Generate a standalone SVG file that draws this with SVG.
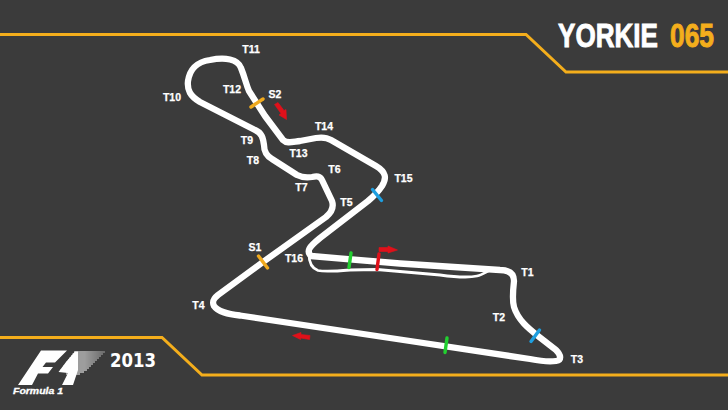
<svg xmlns="http://www.w3.org/2000/svg" width="728" height="410" viewBox="0 0 728 410">
<style>
.gold{fill:none;stroke:#f4ae1c;stroke-width:3;stroke-linejoin:miter}
.track{fill:none;stroke:#fff;stroke-linejoin:round;stroke-linecap:round}
.lbl{font:bold 10.500px "Liberation Sans",Arial,sans-serif;fill:#fff;stroke:#fff;stroke-width:.25;text-anchor:middle}
.mark{fill:none;stroke-width:3.400;stroke-linecap:round}
.arrow{fill:#e0101a;stroke:#e0101a;stroke-width:.6;stroke-linejoin:round}
.st{stroke:url(#fade);stroke-width:1.200;fill:none}
.title{font-family:"Liberation Sans",Arial,sans-serif;font-weight:bold;font-size:33px;stroke-width:.9}
</style>
<defs>
<linearGradient id="fade" gradientUnits="userSpaceOnUse" x1="70" y1="0" x2="106" y2="0"><stop offset="0.4" stop-color="#fff"/><stop offset="1" stop-color="#fff" stop-opacity="0.45"/></linearGradient>
</defs>
<rect width="728" height="410" fill="#3b3b3b"/>
<g id="frame">
<path class="gold" d="M0 34.500H526L566 72H728"/>
<path class="gold" d="M0 337.500H162L202 375H728"/>
</g>
<g id="track">
<path class="track" stroke-width="2.800" d="M309 254C309 262 311 268 318 270.500C325 272 338 271 350 270L377 269.500L440 275C455 277 468 278 477 276C482 275 486 272 490 270"/>
<path class="track" stroke-width="6.300" d="M311 256L400 263.500L500 270C510 270 514 274 514 281C513 290 512 300 514 307C518 320 528 328 538 336L556 350C561 355 562 360 556 361C550 362 540 361 530 359L400 339.500L240 315.500C228 314 218 312 214 306C212 302 213 299 218 295L263 262L326 217C332 212 334 207 332 201L322 180C320 176 317 176 312 177C306 178 301 177 297 175L272 159C265 155 264 150 264 145C263 138 262 133 255 130L200 102C190 96 187 90 188 81C190 68 197 62 210 60C225 57 238 59 241 68C245 78 246 84 249 91L265 116L283 140C287 144 292 142 300 141L316 138C322 137 326 137 331 140L376 166C386 172 387 178 382 186C378 192 374 196 368 201L320 238C309 247 306 251 311 256Z"/>
</g>
<g id="sectors">
<path class="mark" stroke="#f0aa1e" d="M251 107L263 99"/>
<path class="mark" stroke="#f0aa1e" d="M258.500 256L267.500 268"/>
<path class="mark" stroke="#1e9fe0" d="M372.500 189.500L381.500 200.500"/>
<path class="mark" stroke="#1e9fe0" d="M531 341.500L539.500 330"/>
<path class="mark" stroke="#22d030" d="M445 352.500L447 338"/>
<path class="mark" stroke="#22d030" d="M349 267.500L351 253"/>
<path class="mark" stroke="#e0101a" d="M377 269.500L379 254"/>
</g>
<g id="arrows">
<path class="arrow" d="M274.500 104.500L278 102.500L284 110.500L286 109.500L286.500 119.500L279 115L281 113.500Z"/>
<path class="arrow" d="M379 247.500L388 247.500L388 246L397.500 250L388 253L388 251.500L379 251.500Z"/>
<path class="arrow" d="M310 335.500L301 334.500L301 332.500L292.500 335.500L300.500 339.500L300.500 338L309.500 339.500Z"/>
</g>
<g id="labels">
<text class="lbl" x="251" y="53">T11</text>
<text class="lbl" x="232" y="92.500">T12</text>
<text class="lbl" x="275" y="97.500">S2</text>
<text class="lbl" x="172" y="100.500">T10</text>
<text class="lbl" x="324" y="130">T14</text>
<text class="lbl" x="247" y="144">T9</text>
<text class="lbl" x="298.500" y="156.500">T13</text>
<text class="lbl" x="253" y="164">T8</text>
<text class="lbl" x="334.500" y="173">T6</text>
<text class="lbl" x="301.500" y="191">T7</text>
<text class="lbl" x="403.500" y="182">T15</text>
<text class="lbl" x="346.500" y="205.500">T5</text>
<text class="lbl" x="255" y="250.500">S1</text>
<text class="lbl" x="294" y="262">T16</text>
<text class="lbl" x="198.500" y="309">T4</text>
<text class="lbl" x="527.500" y="275.500">T1</text>
<text class="lbl" x="499" y="320.500">T2</text>
<text class="lbl" x="577" y="362.500">T3</text>
</g>
<g id="title">
<text class="title" transform="translate(558 47) scale(.79 1)" fill="#fff" stroke="#fff">YORKIE</text>
<text class="title" transform="translate(670 47) scale(.8 1)" fill="#f4ae1c" stroke="#f4ae1c">065</text>
</g>
<g id="logo">
<path fill="#fff" d="M41 350.500H67L55 362.500H46L42.500 367H53L48 373.500H38L32 385H18Z"/>
<path fill="#fff" d="M75 351.500L78 351.500L78 370L73 385H62L68 373L58.500 372L66 362Z"/>
<path class="st" d="M74 352H105M72.500 354H103M71 356H101M69.500 358H99M68 360H97M66.500 362H95M65 364H93M63.500 366H91M62 368H89M60.500 370H87M66 372H84M66 374H80"/>
<text x="13" y="393.500" font-family="'Liberation Sans',Arial,sans-serif" font-weight="bold" font-style="italic" font-size="8.500" fill="#fff" stroke="#fff" stroke-width=".3" textLength="50" lengthAdjust="spacingAndGlyphs">Formula 1</text>
<text x="110" y="367" font-family="'DejaVu Sans',sans-serif" font-weight="bold" font-size="20" fill="#fff" textLength="46" lengthAdjust="spacingAndGlyphs">2013</text>
</g>
</svg>
